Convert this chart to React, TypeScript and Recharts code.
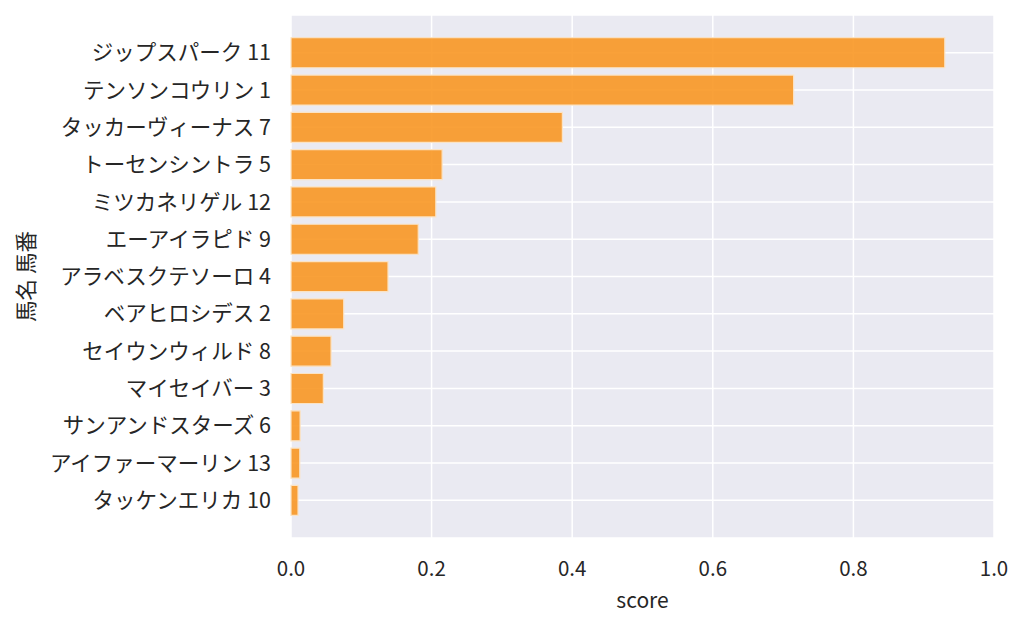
import React from 'react';
import { BarChart, Bar, XAxis, YAxis, CartesianGrid } from 'recharts';

const horseNames = [
  'ジップスパーク 11',
  'テンソンコウリン 1',
  'タッカーヴィーナス 7',
  'トーセンシントラ 5',
  'ミツカネリゲル 12',
  'エーアイラピド 9',
  'アラベスクテソーロ 4',
  'ベアヒロシデス 2',
  'セイウンウィルド 8',
  'マイセイバー 3',
  'サンアンドスターズ 6',
  'アイファーマーリン 13',
  'タッケンエリカ 10',
];
const scores = [0.930, 0.715, 0.386, 0.215, 0.206, 0.181, 0.138, 0.075, 0.057, 0.046, 0.013, 0.0125, 0.010];
const xTicks = [0, 0.2, 0.4, 0.6, 0.8, 1.0];

const data = horseNames.map((name, i) => ({ name, score: scores[i] }));

const FONT = '"Noto Sans CJK JP", "Noto Sans", sans-serif';
const TEXT = '#262626';

export default function App() {
  return (
    <div style={{ position: 'absolute', left: 0, top: 0, width: 1024, height: 627, background: '#fff' }}>
      <BarChart
        width={1024}
        height={627}
        data={data}
        layout="vertical"
        margin={{ top: 15, right: 30, bottom: 0, left: 0 }}
        barCategoryGap="10%"
      >
        <CartesianGrid stroke="#ffffff" strokeWidth={1.5} fill="#eaeaf2" fillOpacity={1} />
        <XAxis
          type="number"
          dataKey="score"
          domain={[0, 1]}
          ticks={xTicks}
          tickFormatter={(v: number) => v.toFixed(1)}
          axisLine={false}
          tickLine={false}
          height={89}
          tick={{ fill: TEXT, fontSize: 20.5, fontFamily: FONT, dy: 15 }}
          label={{ value: 'score', position: 'insideBottom', offset: 19, fill: TEXT, fontSize: 21, fontFamily: FONT }}
        />
        <YAxis
          type="category"
          dataKey="name"
          width={291}
          axisLine={false}
          tickLine={false}
          padding={{ top: 19, bottom: 19 }}
          tick={{ fill: TEXT, fontSize: 21.5, fontFamily: FONT, dx: -12 }}
          label={{ value: '馬名 馬番', angle: -90, position: 'insideLeft', offset: 26, fill: TEXT, fontSize: 21.5, fontFamily: FONT, style: { textAnchor: 'middle' } }}
        />
        <Bar dataKey="score" fill="rgba(248,148,30,0.88)" stroke="#fbe3c4" strokeWidth={1.2} isAnimationActive={false} />
      </BarChart>
    </div>
  );
}
